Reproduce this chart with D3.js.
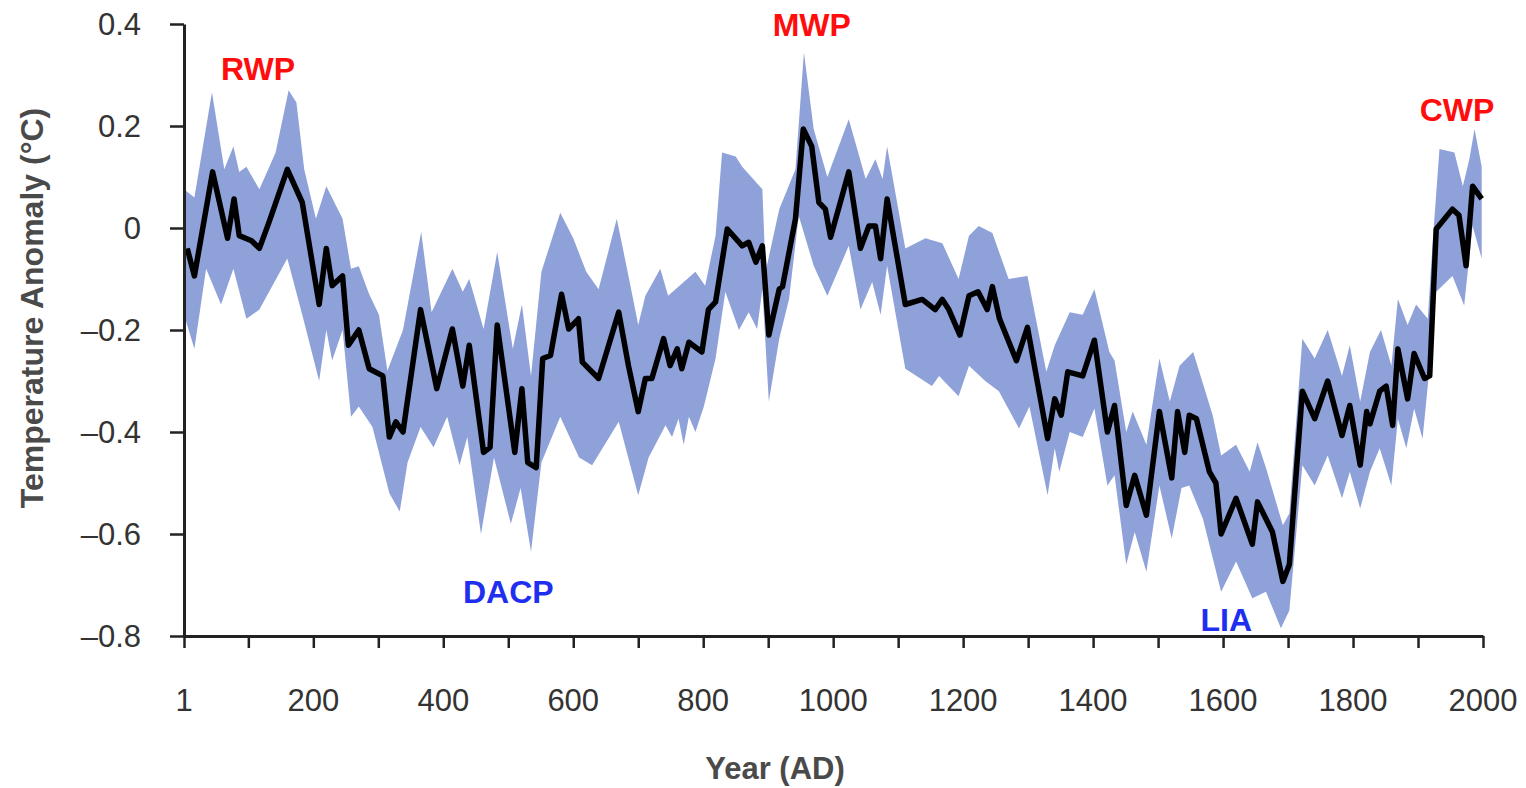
<!DOCTYPE html>
<html>
<head>
    <meta charset="utf-8">
    <title>temperature anomaly</title>
    <script type="text/javascript" src="https://d3js.org/d3.v7.min.js"></script>
    <style>
      body { margin: 0; background: #fff; }
      text { font-family: "Liberation Sans", Arial, sans-serif; }
    </style>
</head>
<body>
<script type="text/javascript">

    // reconstruction (black line)
    var lineYears = [6,17,45,68,78,86,105,117,132,160,183,209,220,229,245,254,270,286,307,317,327,338,365,390,414,430,440,462,472,483,510,521,530,543,553,565,582,593,608,614,639,670,685,700,711,721,739,749,760,767,778,798,808,819,837,860,870,881,891,901,917,922,942,954,967,978,988,996,1024,1042,1055,1065,1073,1083,1111,1137,1157,1168,1178,1195,1209,1223,1237,1245,1256,1282,1299,1330,1341,1351,1361,1384,1402,1422,1433,1451,1464,1482,1502,1521,1530,1541,1548,1559,1579,1589,1597,1620,1645,1653,1676,1692,1702,1722,1741,1761,1783,1795,1811,1821,1826,1841,1851,1861,1869,1884,1894,1910,1918,1928,1953,1963,1974,1984,1998]
    var lineValues = [-0.04,-0.094,0.11,-0.02,0.057,-0.015,-0.025,-0.04,0.012,0.115,0.05,-0.15,-0.04,-0.113,-0.094,-0.23,-0.2,-0.276,-0.29,-0.41,-0.38,-0.4,-0.16,-0.315,-0.198,-0.31,-0.23,-0.44,-0.43,-0.19,-0.44,-0.315,-0.46,-0.47,-0.256,-0.25,-0.13,-0.198,-0.178,-0.263,-0.295,-0.165,-0.27,-0.36,-0.295,-0.295,-0.217,-0.27,-0.237,-0.276,-0.224,-0.243,-0.16,-0.145,-0.002,-0.035,-0.028,-0.067,-0.035,-0.21,-0.12,-0.115,0.018,0.194,0.16,0.05,0.037,-0.018,0.11,-0.04,0.004,0.004,-0.06,0.057,-0.15,-0.14,-0.16,-0.14,-0.16,-0.21,-0.133,-0.125,-0.16,-0.115,-0.178,-0.26,-0.195,-0.413,-0.335,-0.367,-0.282,-0.29,-0.22,-0.4,-0.348,-0.544,-0.485,-0.563,-0.36,-0.49,-0.36,-0.44,-0.367,-0.374,-0.478,-0.5,-0.6,-0.53,-0.62,-0.537,-0.596,-0.693,-0.66,-0.32,-0.374,-0.3,-0.407,-0.348,-0.465,-0.36,-0.384,-0.32,-0.31,-0.387,-0.237,-0.335,-0.246,-0.295,-0.29,-0.002,0.037,0.025,-0.074,0.082,0.057]

    // uncertainty band, upper edge
    var upperYears = [1,17,44,63,77,86,97,117,142,162,174,186,204,220,245,258,270,286,301,314,338,366,382,414,430,440,462,483,507,521,535,551,580,600,620,639,667,685,700,711,734,746,788,803,819,829,850,860,891,896,917,942,955,970,991,1024,1050,1065,1076,1083,1111,1142,1168,1193,1209,1224,1245,1270,1299,1328,1341,1364,1384,1402,1425,1433,1451,1461,1482,1502,1518,1533,1554,1584,1597,1620,1641,1653,1666,1692,1702,1722,1741,1761,1783,1795,1811,1826,1843,1859,1869,1884,1897,1915,1923,1933,1956,1969,1979,1987,1998]
    var upperValues = [0.076,0.06,0.266,0.115,0.16,0.11,0.12,0.076,0.148,0.27,0.246,0.115,0.018,0.082,0.018,-0.08,-0.075,-0.13,-0.17,-0.28,-0.2,-0.008,-0.165,-0.08,-0.125,-0.1,-0.198,-0.047,-0.237,-0.15,-0.29,-0.086,0.03,-0.02,-0.086,-0.12,0.018,-0.094,-0.19,-0.133,-0.08,-0.133,-0.086,-0.113,-0.015,0.148,0.14,0.12,0.076,-0.086,0.037,0.115,0.344,0.194,0.1,0.213,0.096,0.135,0.096,0.16,-0.04,-0.02,-0.03,-0.1,-0.015,0.004,-0.01,-0.1,-0.094,-0.282,-0.23,-0.165,-0.17,-0.12,-0.243,-0.26,-0.4,-0.36,-0.425,-0.256,-0.34,-0.27,-0.243,-0.367,-0.446,-0.425,-0.478,-0.42,-0.47,-0.583,-0.56,-0.217,-0.256,-0.2,-0.29,-0.23,-0.34,-0.243,-0.2,-0.27,-0.139,-0.19,-0.15,-0.178,-0.02,0.155,0.148,0.082,0.135,0.194,0.12]

    // uncertainty band, lower edge
    var lowerYears = [1,17,35,58,77,97,117,160,183,209,220,229,245,258,270,291,317,333,345,365,385,406,425,437,458,478,504,519,535,551,580,609,629,670,700,716,742,752,762,770,778,788,801,819,834,855,870,883,891,901,917,932,947,970,991,1024,1042,1060,1073,1083,1111,1152,1163,1193,1209,1234,1255,1286,1302,1330,1341,1348,1364,1384,1402,1422,1433,1451,1464,1482,1502,1521,1536,1548,1569,1597,1620,1645,1666,1689,1702,1722,1741,1761,1783,1795,1811,1826,1841,1859,1869,1882,1894,1907,1918,1928,1953,1971,1984,1998]
    var lowerValues = [-0.17,-0.237,-0.08,-0.15,-0.08,-0.178,-0.16,-0.06,-0.17,-0.3,-0.2,-0.26,-0.2,-0.37,-0.35,-0.39,-0.52,-0.556,-0.46,-0.39,-0.43,-0.37,-0.465,-0.41,-0.6,-0.45,-0.58,-0.51,-0.635,-0.46,-0.37,-0.45,-0.465,-0.38,-0.524,-0.45,-0.387,-0.41,-0.374,-0.425,-0.37,-0.4,-0.35,-0.256,-0.125,-0.2,-0.165,-0.198,-0.12,-0.34,-0.217,-0.14,0.024,-0.074,-0.133,-0.035,-0.16,-0.106,-0.17,-0.074,-0.276,-0.31,-0.29,-0.33,-0.27,-0.3,-0.32,-0.393,-0.35,-0.524,-0.432,-0.478,-0.4,-0.41,-0.354,-0.505,-0.485,-0.66,-0.596,-0.674,-0.505,-0.609,-0.51,-0.505,-0.57,-0.713,-0.654,-0.726,-0.713,-0.785,-0.75,-0.465,-0.505,-0.446,-0.53,-0.478,-0.55,-0.478,-0.432,-0.505,-0.374,-0.432,-0.354,-0.413,-0.27,-0.125,-0.094,-0.152,0.004,-0.06]

    var xTicks = [1,100,200,300,400,500,600,700,800,900,1000,1100,1200,1300,1400,1500,1600,1700,1800,1900,2000]
    var xLabels = [1,200,400,600,800,1000,1200,1400,1600,1800,2000]
    var yTicks = [0.4,0.2,0,-0.2,-0.4,-0.6,-0.8]

    var periodNames = ["RWP","MWP","CWP","DACP","LIA"]
    var periodYears = [115,967,1960,500,1605]
    var periodValues = [0.291,0.376,0.209,-0.736,-0.791]
    var periodWarm = [true,true,true,false,false]

    var width = 1526
    var height = 788

    var x = d3.scaleLinear().domain([1,2000]).range([184,1483])
    var y = d3.scaleLinear().domain([-0.8,0.4]).range([636,24])

    var svg = d3.select("body").append("svg").attr("width",width).attr("height",height)

    function zipPoints(xs, vs){
        var pts = []
        for(var i in xs){
            pts.push([xs[i], vs[i]])
        }
        return pts
    }

    var upper = zipPoints(upperYears, upperValues)
    var lower = zipPoints(lowerYears, lowerValues).reverse()
    var band = upper.concat(lower)

    var path = d3.line()
        .x(function(d){ return x(d[0]) })
        .y(function(d){ return y(d[1]) })

    svg.append("path")
        .attr("d", path(band) + "Z")
        .attr("fill","#8ea1d9")
        .attr("stroke","none")

    svg.append("path")
        .attr("d", path(zipPoints(lineYears, lineValues)))
        .attr("fill","none")
        .attr("stroke","#000")
        .attr("stroke-width",5.5)
        .attr("stroke-linejoin","round")

    // axes
    var xAxis = d3.axisBottom(x).tickValues(xTicks).tickSize(12).tickSizeOuter(0).tickFormat("")
    var gx = svg.append("g").attr("transform","translate(0,636)").call(xAxis)
    gx.select(".domain").attr("stroke","#222").attr("stroke-width",3)
    gx.selectAll(".tick line").attr("stroke","#222").attr("stroke-width",2.5)

    var yAxis = d3.axisLeft(y).tickValues(yTicks).tickSize(14).tickSizeOuter(0).tickFormat("")
    var gy = svg.append("g").attr("transform","translate(184,0)").call(yAxis)
    gy.select(".domain").attr("stroke","#222").attr("stroke-width",3)
    gy.selectAll(".tick line").attr("stroke","#222").attr("stroke-width",2.5)

    svg.selectAll(".xlab")
        .data(xLabels)
        .enter()
        .append("text")
        .attr("class","xlab")
        .attr("x", function(d){ return x(d) })
        .attr("y", 711)
        .attr("text-anchor","middle")
        .attr("font-size",31)
        .attr("fill","#333")
        .text(function(d){ return d })

    svg.selectAll(".ylab")
        .data(yTicks)
        .enter()
        .append("text")
        .attr("class","ylab")
        .attr("x", 141)
        .attr("y", function(d){ return y(d) + 11 })
        .attr("text-anchor","end")
        .attr("font-size",31)
        .attr("fill","#333")
        .text(function(d){ return d < 0 ? "\u2013" + Math.abs(d) : d })

    svg.append("text")
        .attr("x", 775)
        .attr("y", 779)
        .attr("text-anchor","middle")
        .attr("font-size",31)
        .attr("font-weight","bold")
        .attr("fill","#4a4a4a")
        .text("Year (AD)")

    svg.append("text")
        .attr("transform","translate(43,308) rotate(-90)")
        .attr("text-anchor","middle")
        .attr("font-size",32)
        .attr("font-weight","bold")
        .attr("fill","#4a4a4a")
        .text("Temperature Anomaly (\u00b0C)")

    svg.selectAll(".period")
        .data(periodNames)
        .enter()
        .append("text")
        .attr("class","period")
        .attr("x", function(d,i){ return x(periodYears[i]) })
        .attr("y", function(d,i){ return y(periodValues[i]) })
        .attr("text-anchor","middle")
        .attr("font-size",32)
        .attr("font-weight","bold")
        .attr("fill", function(d,i){ return periodWarm[i] ? "#ff0d0d" : "#1f2ff0" })
        .text(function(d){ return d })

</script>
</body>
</html>
